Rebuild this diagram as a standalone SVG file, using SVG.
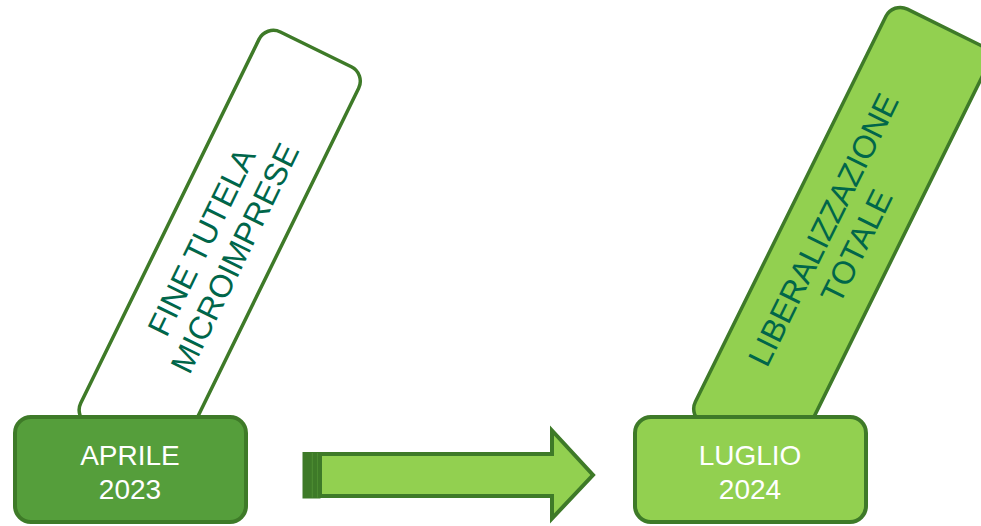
<svg xmlns="http://www.w3.org/2000/svg" width="981" height="526" viewBox="0 0 981 526">
<style>
.tilt{stroke:#3e7a28;stroke-width:3.5}
.date{stroke:#3e7a28;stroke-width:4}
.ttext{font-family:"Liberation Sans",Arial,sans-serif;font-size:32px;fill:#00664a}
.dtext{font-family:"Liberation Sans",Arial,sans-serif;font-size:28px;fill:#ffffff}
</style>
<rect width="981" height="526" fill="#ffffff"/>
<g id="node-fine-tutela" transform="translate(266,25) rotate(26.1)">
<rect class="tilt" x="0" y="0" width="111" height="437" rx="16" fill="#ffffff"/>
<text class="ttext" transform="translate(55.5,223) rotate(-90)" text-anchor="middle"><tspan x="0" y="-7">FINE TUTELA</tspan><tspan x="0" y="30">MICROIMPRESE</tspan></text>
</g>
<g id="node-liberalizzazione" transform="translate(893,2) rotate(26.3)">
<rect class="tilt" x="0" y="0" width="113" height="462" rx="16" fill="#92d050"/>
<text class="ttext" transform="translate(56.5,235) rotate(-90)" text-anchor="middle"><tspan x="0" y="-7">LIBERALIZZAZIONE</tspan><tspan x="0" y="30">TOTALE</tspan></text>
</g>
<g id="node-aprile">
<rect class="date" x="15" y="417" width="231" height="105" rx="16" fill="#559e3b"/>
<text class="dtext" text-anchor="middle"><tspan x="130" y="465">APRILE</tspan><tspan x="130" y="499">2023</tspan></text>
</g>
<g id="node-luglio">
<rect class="date" x="635" y="417" width="231" height="105" rx="16" fill="#92d050"/>
<text class="dtext" text-anchor="middle"><tspan x="750" y="465">LUGLIO</tspan><tspan x="750" y="499">2024</tspan></text>
</g>
<g id="connectors">
<rect x="302.5" y="452" width="18" height="46.5" fill="#3e7a28"/>
<line x1="312.3" y1="453" x2="312.3" y2="497.5" stroke="#4f8f33" stroke-width="1"/>
<line x1="317.7" y1="453" x2="317.7" y2="497.5" stroke="#4f8f33" stroke-width="1"/>
<polygon points="320,454 552,454 552,430.5 593,475 552,518.5 552,496 320,496" fill="#92d050" stroke="#3e7a28" stroke-width="4" stroke-linejoin="miter"/>
</g>
</svg>
